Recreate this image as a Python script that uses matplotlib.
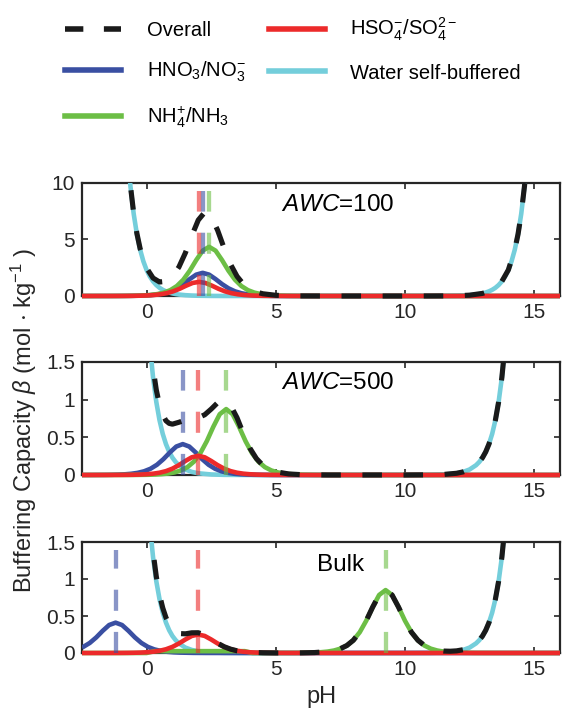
import matplotlib
matplotlib.use('Agg')
import matplotlib.pyplot as plt
from matplotlib.lines import Line2D
from matplotlib.transforms import Bbox, TransformedBbox

plt.rcParams['font.family'] = ['Liberation Sans', 'DejaVu Sans']
plt.rcParams['mathtext.fontset'] = 'custom'
plt.rcParams['mathtext.rm'] = 'Liberation Sans'
plt.rcParams['mathtext.it'] = 'Liberation Sans:italic'
plt.rcParams['mathtext.bf'] = 'Liberation Sans:bold'
plt.rcParams['mathtext.default'] = 'regular'

# ---------------- data ----------------
# water self-buffering (same in every panel)
water_ph = [-1.0, -0.875, -0.75, -0.625, -0.5, -0.375, -0.25, -0.125, 0.0, 0.125, 0.25, 0.375,
            0.5, 0.625, 0.75, 0.875, 1.0, 1.125, 1.25, 1.5, 1.75, 2.0, 2.5, 3.0, 4.0, 7.0, 10.0,
            11.0, 11.5, 12.0, 12.25, 12.5, 12.75, 12.875, 13.0, 13.125, 13.25, 13.375, 13.5,
            13.625, 13.75, 13.875, 14.0, 14.125, 14.25, 14.375, 14.5, 14.625, 14.75, 14.875, 15.0]
water_beta = [23.03, 17.27, 12.95, 9.71, 7.28, 5.46, 4.10, 3.07, 2.30, 1.727, 1.295, 0.971,
              0.728, 0.546, 0.410, 0.307, 0.230, 0.173, 0.130, 0.073, 0.041, 0.023, 0.007, 0.002,
              0.0, 0.0, 0.0002, 0.002, 0.007, 0.023, 0.041, 0.073, 0.130, 0.173, 0.230, 0.307,
              0.410, 0.546, 0.728, 0.971, 1.295, 1.727, 2.30, 3.07, 4.10, 5.46, 7.28, 9.71,
              12.95, 17.27, 23.03]

# ---- panel 1 : AWC = 100 ----
p1_blue_ph = [-2.5, -1.33, -0.83, -0.58, -0.33, -0.08, 0.17, 0.42, 0.67, 0.92, 1.17, 1.42, 1.67,
              1.92, 2.17, 2.42, 2.67, 2.92, 3.17, 3.42, 3.67, 3.92, 4.17, 4.42, 4.67, 4.92, 5.17,
              5.67, 7.0, 16.0]
p1_blue = [0.0, 0.0026, 0.0082, 0.0146, 0.0258, 0.0455, 0.0804, 0.1408, 0.244, 0.4141, 0.6786,
           1.0517, 1.4965, 1.890, 2.05, 1.890, 1.4965, 1.0517, 0.6786, 0.4141, 0.244, 0.1408,
           0.0804, 0.0455, 0.0258, 0.0146, 0.0082, 0.0026, 0.0001, 0.0]
p1_green_ph = [-2.5, -1.08, -0.58, -0.33, -0.08, 0.17, 0.42, 0.67, 0.92, 1.17, 1.42, 1.67, 1.92,
               2.17, 2.42, 2.67, 2.92, 3.17, 3.42, 3.67, 3.92, 4.17, 4.42, 4.67, 4.92, 5.17, 5.42,
               5.92, 7.0, 16.0]
p1_green = [0.0, 0.0055, 0.0174, 0.0309, 0.0548, 0.0966, 0.171, 0.299, 0.518, 0.879, 1.440, 2.232,
            3.176, 4.011, 4.35, 4.011, 3.176, 2.232, 1.440, 0.879, 0.518, 0.299, 0.171, 0.0966,
            0.0548, 0.0309, 0.0174, 0.0055, 0.0004, 0.0]
p1_red_ph = [-2.5, -1.47, -0.97, -0.72, -0.47, -0.22, 0.03, 0.28, 0.53, 0.78, 1.03, 1.28, 1.53,
             1.78, 2.03, 2.28, 2.53, 2.78, 3.03, 3.28, 3.53, 3.78, 4.03, 4.28, 4.53, 4.78, 5.03,
             5.53, 7.0, 16.0]
p1_red = [0.0, 0.0016, 0.005, 0.0089, 0.0158, 0.0278, 0.049, 0.0859, 0.149, 0.2525, 0.414, 0.641,
          0.9125, 1.1525, 1.25, 1.1525, 0.9125, 0.641, 0.414, 0.2525, 0.149, 0.0859, 0.049,
          0.0278, 0.0158, 0.0089, 0.005, 0.0016, 0.0001, 0.0]
p1_total_ph = [-0.75, -0.625, -0.5, -0.375, -0.25, 0.0, 0.25, 0.5, 0.75, 1.0, 1.25, 1.5, 1.75,
               2.0, 2.25, 2.5, 2.75, 3.0, 3.25, 3.5, 3.75, 4.0, 4.25, 4.5, 5.0, 5.5, 6.0, 7.0,
               10.0, 11.0, 11.5, 12.0, 12.5, 13.0, 13.25, 13.5, 13.75, 14.0, 14.25, 14.375, 14.5,
               14.625, 14.75]
p1_total = [12.98, 9.75, 7.33, 5.53, 4.19, 2.47, 1.59, 1.24, 1.29, 1.72, 2.56, 3.81, 5.33,
            6.72, 7.41, 7.05, 5.81, 4.23, 2.80, 1.74, 1.04, 0.605, 0.347, 0.197, 0.063, 0.020,
            0.006, 0.0006, 0.0002, 0.0023, 0.0073, 0.023, 0.073, 0.230, 0.410, 0.728, 1.295,
            2.303, 4.10, 5.46, 7.28, 9.71, 12.95]
p1_pka = {'blue': 2.17, 'red': 2.03, 'green': 2.42}

# ---- panel 2 : AWC = 500 ----
p2_blue_ph = [-2.5, -2.1, -1.6, -1.35, -1.1, -0.85, -0.6, -0.35, -0.1, 0.15, 0.4, 0.65, 0.9, 1.15,
              1.4, 1.65, 1.9, 2.15, 2.4, 2.65, 2.9, 3.15, 3.4, 3.65, 3.9, 4.15, 4.4, 4.9, 6.0, 16.0]
p2_blue = [0.0, 0.0005, 0.0016, 0.0029, 0.0052, 0.0091, 0.0161, 0.0282, 0.0488, 0.0828, 0.1357,
           0.2103, 0.2993, 0.378, 0.41, 0.378, 0.2993, 0.2103, 0.1357, 0.0828, 0.0488, 0.0282,
           0.0161, 0.0091, 0.0052, 0.0029, 0.0016, 0.0005, 0.0, 0.0]
p2_green_ph = [-2.5, -0.42, 0.08, 0.33, 0.58, 0.83, 1.08, 1.33, 1.58, 1.83, 2.08, 2.33, 2.58, 2.83,
               3.08, 3.33, 3.58, 3.83, 4.08, 4.33, 4.58, 4.83, 5.08, 5.33, 5.58, 5.83, 6.08, 6.58,
               8.0, 16.0]
p2_green = [0.0, 0.0011, 0.0035, 0.0062, 0.011, 0.0194, 0.0343, 0.0601, 0.1041, 0.1768, 0.2896,
            0.4489, 0.6388, 0.8068, 0.875, 0.8068, 0.6388, 0.4489, 0.2896, 0.1768, 0.1041, 0.0601,
            0.0343, 0.0194, 0.011, 0.0062, 0.0035, 0.0011, 0.0, 0.0]
p2_red_ph = [-2.5, -1.5, -1.0, -0.75, -0.5, -0.25, 0.0, 0.25, 0.5, 0.75, 1.0, 1.25, 1.5, 1.75, 2.0,
             2.25, 2.5, 2.75, 3.0, 3.25, 3.5, 3.75, 4.0, 4.25, 4.5, 4.75, 5.0, 5.5, 7.0, 16.0]
p2_red = [0.0, 0.0003, 0.001, 0.0018, 0.0032, 0.0057, 0.01, 0.0175, 0.0303, 0.0515, 0.0844,
          0.1308, 0.1862, 0.2351, 0.255, 0.2351, 0.1862, 0.1308, 0.0844, 0.0515, 0.0303, 0.0175,
          0.01, 0.0057, 0.0032, 0.0018, 0.001, 0.0003, 0.0, 0.0]
p2_total_ph = [0.125, 0.25, 0.375, 0.5, 0.625, 0.75, 0.875, 1.0, 1.25, 1.5, 1.75, 2.0, 2.25, 2.5,
               2.75, 3.0, 3.25, 3.5, 3.75, 4.0, 4.25, 4.5, 4.75, 5.0, 5.5, 6.0, 7.0, 10.0, 11.0,
               11.5, 12.0, 12.25, 12.5, 12.75, 12.875, 13.0, 13.125, 13.25, 13.375, 13.5, 13.625,
               13.75, 13.875]
p2_total = [1.82, 1.42, 1.13, 0.93, 0.80, 0.72, 0.685, 0.675, 0.70, 0.73, 0.745, 0.76, 0.80,
            0.875, 0.96, 0.99, 0.925, 0.76, 0.545, 0.355, 0.218, 0.128, 0.074, 0.043, 0.014,
            0.0042, 0.0004, 0.0002, 0.0023, 0.0073, 0.023, 0.041, 0.073, 0.130, 0.173, 0.230,
            0.307, 0.410, 0.546, 0.728, 0.971, 1.295, 1.727]
p2_pka = {'blue': 1.40, 'red': 2.0, 'green': 3.08}

# ---- panel 3 : Bulk ----
p3_blue_ph = [-2.5, -2.45, -2.2, -1.95, -1.7, -1.45, -1.2, -0.95, -0.7, -0.45, -0.2, 0.05, 0.3,
              0.55, 0.8, 1.05, 1.3, 1.8, 2.3, 3.5, 16.0]
p3_blue = [0.0745, 0.0828, 0.1357, 0.2103, 0.2993, 0.378, 0.41, 0.378, 0.2993, 0.2103, 0.1357,
           0.0828, 0.0488, 0.0282, 0.0161, 0.0091, 0.0052, 0.0016, 0.0005, 0.0, 0.0]
p3_green_ph = [-2.5, 0.0, 0.3, 3.8, 4.1, 5.75, 6.25, 6.5, 6.75, 7.0, 7.25, 7.5, 7.75, 8.0, 8.25,
               8.5, 8.75, 9.0, 9.25, 9.5, 9.75, 10.0, 10.25, 10.5, 10.75, 11.0, 11.25, 11.5,
               11.75, 12.0, 12.25, 12.75, 14.0, 16.0]
p3_green = [0.0, 0.0, 0.025, 0.025, 0.0, 0.0011, 0.0034, 0.006, 0.0107, 0.0189, 0.0333, 0.0584,
            0.101, 0.1717, 0.281, 0.436, 0.6205, 0.784, 0.85, 0.784, 0.6205, 0.436, 0.281,
            0.1717, 0.101, 0.0584, 0.0333, 0.0189, 0.0107, 0.006, 0.0034, 0.0011, 0.0, 0.0]
p3_red_ph = p2_red_ph
p3_red = [0.0, 0.0003, 0.001, 0.0018, 0.0032, 0.0056, 0.0098, 0.0172, 0.0298, 0.0505, 0.0828,
          0.1283, 0.1825, 0.2305, 0.25, 0.2305, 0.1825, 0.1283, 0.0828, 0.0505, 0.0298, 0.0172,
          0.0098, 0.0056, 0.0032, 0.0018, 0.001, 0.0003, 0.0, 0.0]
p3_total_ph = [0.125, 0.25, 0.375, 0.5, 0.625, 0.75, 0.875, 1.0, 1.25, 1.5, 1.75, 2.0, 2.25, 2.5,
               2.75, 3.0, 3.25, 3.5, 3.75, 4.0, 4.5, 5.0, 6.0, 6.5, 7.0, 7.25, 7.5, 7.75, 8.0,
               8.25, 8.5, 8.75, 9.0, 9.25, 9.5, 9.75, 10.0, 10.25, 10.5, 10.75, 11.0, 11.25, 11.5,
               11.75, 12.0, 12.25, 12.5, 12.75, 12.875, 13.0, 13.125, 13.25, 13.375, 13.5, 13.625,
               13.75, 13.875]
p3_total = [1.81, 1.367, 1.035, 0.789, 0.609, 0.478, 0.386, 0.323, 0.263, 0.259, 0.273, 0.274,
            0.244, 0.190, 0.132, 0.085, 0.052, 0.030, 0.018, 0.0098, 0.0032, 0.001, 0.002, 0.006,
            0.0189, 0.0333, 0.0584, 0.101, 0.1717, 0.281, 0.436, 0.6205, 0.784, 0.85, 0.784,
            0.6205, 0.436, 0.2814, 0.1724, 0.1023, 0.0607, 0.0374, 0.0262, 0.0237, 0.029, 0.0444,
            0.0747, 0.1305, 0.173, 0.230, 0.307, 0.410, 0.546, 0.728, 0.971, 1.295, 1.727]
p3_pka = {'blue': -1.2, 'red': 2.0, 'green': 9.25}

panel_titles = ['$\\it{AWC}$=100', '$\\it{AWC}$=500', 'Bulk']
panel_ylims = [10, 1.5, 1.5]
panel_yticks = [[0, 5, 10], [0, 0.5, 1, 1.5], [0, 0.5, 1, 1.5]]
panel_yticklabels = [['0', '5', '10'], ['0', '0.5', '1', '1.5'], ['0', '0.5', '1', '1.5']]
x_ticks = [0, 5, 10, 15]

legend_labels = ['Overall', 'HNO$_3$/NO$_3^{-}$', 'NH$_4^{+}$/NH$_3$',
                 'HSO$_4^{-}$/SO$_4^{2-}$', 'Water self-buffered']

# ---------------- style ----------------
C_BLUE = '#3A4FA2'
C_RED = '#EC2A2A'
C_GREEN = '#6CBE45'
C_CYAN = '#74CEDB'
C_BLACK = '#1A1A1A'
AX_COL = '#262626'
LW = 3.3
LW_BLACK = 3.7
BLACK_DASH = (3.8, 4.2)

panels = [
    (p1_blue_ph, p1_blue, p1_green_ph, p1_green, p1_red_ph, p1_red, p1_total_ph, p1_total, p1_pka),
    (p2_blue_ph, p2_blue, p2_green_ph, p2_green, p2_red_ph, p2_red, p2_total_ph, p2_total, p2_pka),
    (p3_blue_ph, p3_blue, p3_green_ph, p3_green, p3_red_ph, p3_red, p3_total_ph, p3_total, p3_pka),
]
W, H = 569, 708
ax_px = [(82, 183, 560, 296), (82, 362, 560, 475), (82, 542, 560, 653)]
title_pos = [(0.536, 0.805), (0.536, 0.814), (0.540, 0.79)]

fig = plt.figure(figsize=(W / 100, H / 100), dpi=100)

for i, (bph, bv, gph, gv, rph, rv, tph, tv, pka) in enumerate(panels):
    l, t, r, b = ax_px[i]
    ax = fig.add_axes([l / W, 1 - b / H, (r - l) / W, (b - t) / H])
    arts = []
    arts += ax.plot(water_ph, water_beta, color=C_CYAN, lw=LW, solid_capstyle='butt')
    arts += ax.plot(bph, bv, color=C_BLUE, lw=LW, solid_capstyle='butt')
    arts += ax.plot(gph, gv, color=C_GREEN, lw=LW, solid_capstyle='butt')
    arts += ax.plot(rph, rv, color=C_RED, lw=LW, solid_capstyle='butt')
    for key, col in (('blue', C_BLUE), ('red', C_RED), ('green', C_GREEN)):
        vl = ax.axvline(pka[key], ymin=0, ymax=0.93, color=col, alpha=0.6, lw=3.1,
                        dashes=(4.9, 4.9), dash_capstyle='butt')
        arts.append(vl)
    arts += ax.plot(tph, tv, color=C_BLACK, lw=LW_BLACK, dashes=BLACK_DASH, dash_capstyle='butt')
    clip = TransformedBbox(Bbox([[0, -0.06], [1, 1]]), ax.transAxes)
    for a in arts:
        a.set_clip_path(None)
        a.set_clip_box(clip)
        a.set_zorder(3)
    ax.set_xlim(-2.5, 16)
    ax.set_ylim(0, panel_ylims[i])
    ax.set_xticks(x_ticks)
    ax.set_xticklabels([str(v) for v in x_ticks])
    ax.set_yticks(panel_yticks[i])
    ax.set_yticklabels(panel_yticklabels[i])
    ax.tick_params(direction='in', top=True, right=True, length=4, width=1.2,
                   labelsize=15, colors=AX_COL, pad=5)
    for s in ax.spines.values():
        s.set_linewidth(1.6)
        s.set_color(AX_COL)
        s.set_zorder(2)
    ax.text(title_pos[i][0], title_pos[i][1], panel_titles[i], transform=ax.transAxes,
            ha='center', va='center', fontsize=17.5, color='black', zorder=5)

fig.text(321 / W, 1 - 697 / H, 'pH', ha='center', va='center', fontsize=17, color=AX_COL)
fig.text(24 / W, 1 - 420 / H, 'Buffering Capacity $\\it{\\beta}$ (mol $\\cdot$ kg$^{-1}$ )',
         rotation=90, ha='center', va='center', fontsize=17, color=AX_COL)

handles = [Line2D([], [], color=C_BLACK, lw=4.0, dashes=(3.3, 3.7), dash_capstyle='butt'),
           Line2D([], [], color=C_BLUE, lw=4.0),
           Line2D([], [], color=C_GREEN, lw=4.0),
           Line2D([], [], color=C_RED, lw=4.0),
           Line2D([], [], color=C_CYAN, lw=4.0)]
fig.legend(handles, legend_labels, ncol=2, loc='upper left', bbox_to_anchor=(65 / W, 1 - 16 / H),
           frameon=False, fontsize=14.5, handlelength=2.8, handletextpad=1.25, columnspacing=1.15,
           labelspacing=1.0, borderpad=0, borderaxespad=0)

fig.savefig('out.png', dpi=100)
